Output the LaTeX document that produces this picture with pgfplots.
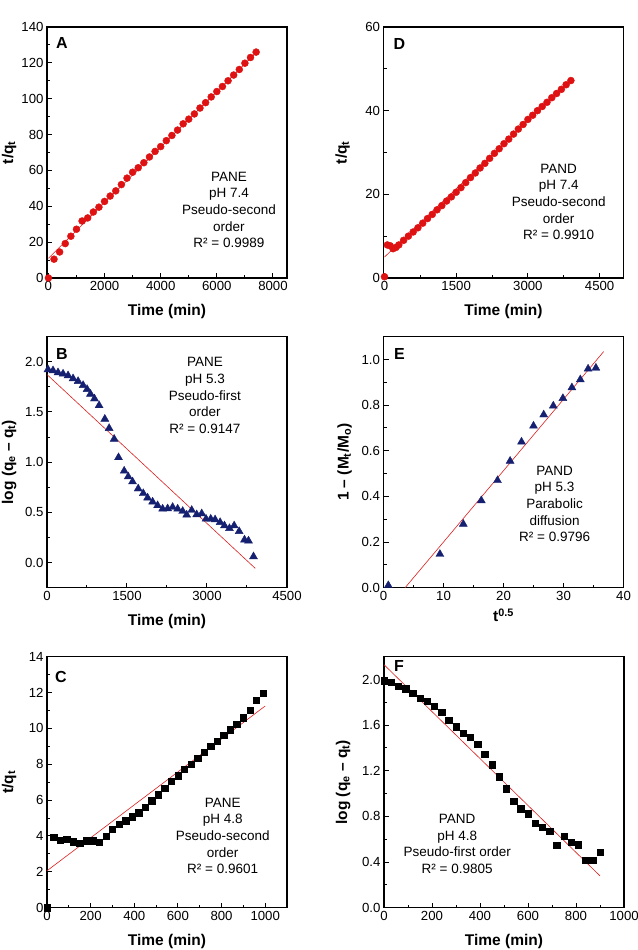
\documentclass[border=0pt]{standalone}
\usepackage{pgfplots}
\pgfplotsset{compat=1.18}
\usepackage{fontspec}
\setmainfont{Liberation Sans}
\definecolor{dotred}{RGB}{222,18,18}
\definecolor{navy}{RGB}{22,32,112}
\definecolor{fitred}{RGB}{222,30,30}
\tikzset{
  ann/.style={align=center, font=\fontsize{13.5}{16.7}\selectfont, inner sep=0pt},
  letter/.style={anchor=north west, inner sep=0pt, font=\bfseries\fontsize{16}{16}\selectfont},
  onedec/.style={/pgf/number format/.cd, fixed, fixed zerofill, precision=1},
}
\pgfplotsset{
  panel/.style={
    scale only axis, width=240pt, height=251pt,
    anchor=south west,
    clip=false,
    axis line style={line width=1.3pt},
    tick style={black, line width=1pt},
    major tick length=5pt, minor tick length=3pt,
    tick align=inside, tick pos=left,
    ticklabel style={font=\fontsize{13.2}{13.2}\selectfont},
    /pgf/number format/assume math mode=true,
    /pgf/number format/1000 sep={},
    scaled ticks=false,
    minor x tick num=1, minor y tick num=1,
    xlabel style={font=\bfseries\fontsize{15.5}{16}\selectfont, at={(axis description cs:0.5,0)}, anchor=north, inner sep=0pt, yshift=-26pt},
    ylabel style={font=\bfseries\fontsize{15.5}{16}\selectfont, anchor=center},
  },
  fit/.style={fitred, line width=0.6pt, no markers},
  circ/.style={only marks, mark=*, mark size=3.5pt, mark options={draw=dotred, fill=dotred}},
  tri/.style={only marks, mark=triangle*, mark size=4.6pt, mark options={draw=navy, fill=navy}},
  sq/.style={only marks, mark=square*, mark size=3.2pt, mark options={draw=black, fill=black}},
}
\begin{document}
\begin{tikzpicture}
\useasboundingbox (0,0) rectangle (637pt,950pt);

% ---------------- A ----------------
\begin{axis}[panel, at={(47pt,672pt)},
  xmin=-50, xmax=8500, ymin=0, ymax=140,
  xtick={0,2000,4000,6000,8000}, ytick={0,20,40,60,80,100,120,140},
  xlabel={Time (min)}, ylabel={t/q\textsubscript{t}},
  ylabel style={at={(axis description cs:-0.158,0.5)}}]
\addplot[fit] coordinates {(0,11) (7400,125.6)};
\addplot[circ] coordinates {
(0,0) (200,10.5) (400,14.5) (600,19.2) (800,23.3) (1000,27.2) (1200,31.8) (1400,33.5)
(1600,36.8) (1800,39.5) (2000,42.7) (2200,45.7) (2400,48.6) (2600,52.1) (2800,55.7)
(3000,59.0) (3200,61.5) (3400,64.3) (3600,67.5) (3800,70.6) (4000,73.3) (4200,76.6)
(4400,79.5) (4600,82.5) (4800,86.0) (5000,88.6) (5200,91.5) (5400,94.8) (5600,97.8)
(5800,101.0) (6000,104.0) (6200,106.8) (6400,110.0) (6600,113.2) (6800,116.3)
(7000,119.8) (7200,123.0) (7400,126.0)};
\node[letter, xshift=9pt, yshift=-10.5pt] at (axis description cs:0,1) {A};
\node[ann] at (axis description cs:0.758,0.271) {PANE\\pH 7.4\\Pseudo-second\\order\\R² = 0.9989};
\end{axis}

% ---------------- D ----------------
\begin{axis}[panel, at={(383.5pt,672pt)},
  xmin=-20, xmax=5000, ymin=0, ymax=60,
  xtick={0,1500,3000,4500}, ytick={0,20,40,60},
  xlabel={Time (min)}, ylabel={t/q\textsubscript{t}},
  ylabel style={at={(axis description cs:-0.17,0.5)}}]
\addplot[fit] coordinates {(0,5.0) (3900,47.4)};
\addplot[circ] coordinates {
(0,0.3) (60,7.9) (120,7.7) (180,7.0) (240,7.3) (300,7.9) (400,9.0) (500,10.0)
(600,11.0) (700,12.0) (800,13.1) (900,14.2) (1000,15.2) (1100,16.3) (1200,17.3)
(1300,18.4) (1400,19.4) (1500,20.5) (1600,21.6) (1700,22.8) (1800,24.0) (1900,25.1)
(2000,26.3) (2100,27.4) (2200,28.6) (2300,29.8) (2400,30.9) (2500,32.1) (2600,33.2)
(2700,34.4) (2800,35.6) (2900,36.7) (3000,37.9) (3100,38.9) (3200,40.0) (3300,41.0)
(3400,42.0) (3500,43.1) (3600,44.1) (3700,45.1) (3800,46.2) (3900,47.2)};
\node[letter, xshift=10pt, yshift=-11.5pt] at (axis description cs:0,1) {D};
\node[ann] at (axis description cs:0.73,0.303) {PAND\\pH 7.4\\Pseudo-second\\order\\R² = 0.9910};
\end{axis}

% ---------------- B ----------------
\begin{axis}[panel, at={(47pt,362.3pt)},
  xmin=0, xmax=4500, ymin=-0.25, ymax=2.25,
  xtick={0,1500,3000,4500}, ytick={0,0.5,1,1.5,2},
  yticklabel style={onedec},
  xlabel={Time (min)}, ylabel={log (q\textsubscript{e} – q\textsubscript{t})},
  ylabel style={at={(axis description cs:-0.158,0.5)}}]
\addplot[fit] coordinates {(0,1.873) (3904,-0.057)};
\addplot[tri] coordinates {
(19,1.923) (113,1.913) (207,1.893) (301,1.88) (395,1.863) (489,1.833) (583,1.806)
(677,1.766) (752,1.726) (815,1.679) (890,1.632) (977,1.565) (1084,1.43) (1165,1.338)
(1259,1.231) (1341,1.047) (1447,0.913) (1523,0.856) (1604,0.806) (1710,0.736)
(1805,0.689) (1886,0.645) (1980,0.605) (2074,0.569) (2168,0.535) (2262,0.538)
(2356,0.552) (2450,0.535) (2544,0.512) (2619,0.475) (2713,0.522) (2807,0.478)
(2901,0.488) (2982,0.435) (3070,0.435) (3152,0.428) (3246,0.401) (3327,0.368)
(3421,0.341) (3509,0.368) (3603,0.311) (3703,0.227) (3778,0.217) (3872,0.06)};
\node[letter, xshift=9pt, yshift=-12pt] at (axis description cs:0,1) {B};
\node[ann] at (axis description cs:0.658,0.766) {PANE\\pH 5.3\\Pseudo-first\\order\\R² = 0.9147};
\end{axis}

% ---------------- E ----------------
\begin{axis}[panel, at={(383.5pt,362.3pt)},
  xmin=0, xmax=40, ymin=0, ymax=1.1,
  xtick={0,10,20,30,40}, ytick={0,0.2,0.4,0.6,0.8,1.0},
  yticklabel style={onedec},
  xlabel={t\textsuperscript{0.5}}, xlabel style={yshift=5pt},
  ylabel={1 – (M\textsubscript{t}/M\textsubscript{o})},
  ylabel style={at={(axis description cs:-0.162,0.5)}}]
\addplot[fit] coordinates {(3.6,0) (36.7,1.035)};
\addplot[tri] coordinates {
(0.8,0.01) (9.4,0.147) (13.3,0.279) (16.3,0.382) (19.0,0.47) (21.1,0.555)
(23.0,0.639) (25.0,0.709) (26.7,0.758) (28.3,0.797) (29.9,0.83) (31.4,0.877)
(32.8,0.912) (34.1,0.959) (35.4,0.963)};
\node[letter, xshift=10.5pt, yshift=-11.7pt] at (axis description cs:0,1) {E};
\node[ann] at (axis description cs:0.713,0.334) {PAND\\pH 5.3\\Parabolic\\diffusion\\R² = 0.9796};
\end{axis}

% ---------------- C ----------------
\begin{axis}[panel, at={(47pt,42.3pt)},
  xmin=0, xmax=1100, ymin=0, ymax=14,
  xtick={0,200,400,600,800,1000}, ytick={0,2,4,6,8,10,12,14},
  xlabel={Time (min)}, ylabel={t/q\textsubscript{t}},
  ylabel style={at={(axis description cs:-0.158,0.5)}}]
\addplot[fit] coordinates {(0,2.06) (1000,11.25)};
\addplot[sq] coordinates {
(0,0) (30,3.92) (60,3.77) (90,3.81) (120,3.68) (150,3.59) (180,3.74) (210,3.74)
(240,3.66) (270,3.98) (300,4.37) (330,4.65) (360,4.85) (390,5.07) (420,5.30)
(450,5.61) (480,5.97) (510,6.30) (540,6.67) (570,7.04) (600,7.36) (630,7.71)
(660,8.01) (690,8.33) (720,8.66) (750,9.00) (780,9.29) (810,9.63) (840,9.93)
(870,10.24) (900,10.60) (930,11.00) (960,11.56) (990,11.95)};
\node[letter, xshift=8pt, yshift=-14pt] at (axis description cs:0,1) {C};
\node[ann] at (axis description cs:0.732,0.286) {PANE\\pH 4.8\\Pseudo-second\\order\\R² = 0.9601};
\end{axis}

% ---------------- F ----------------
\begin{axis}[panel, at={(384pt,42.3pt)},
  xmin=0, xmax=1000, ymin=0, ymax=2.2,
  xtick={0,200,400,600,800,1000}, ytick={0,0.4,0.8,1.2,1.6,2.0},
  yticklabel style={onedec},
  xlabel={Time (min)}, ylabel={log (q\textsubscript{e} – q\textsubscript{t})},
  ylabel style={at={(axis description cs:-0.17,0.5)}}]
\addplot[fit] coordinates {(0,2.13) (900,0.279)};
\addplot[sq] coordinates {
(0,1.99) (30,1.977) (60,1.94) (90,1.918) (120,1.88) (150,1.838) (180,1.809)
(210,1.765) (240,1.712) (270,1.645) (300,1.586) (330,1.53) (360,1.492) (390,1.433)
(420,1.345) (450,1.254) (480,1.148) (510,1.043) (540,0.934) (570,0.869) (600,0.825)
(630,0.743) (660,0.708) (690,0.67) (720,0.546) (750,0.626) (780,0.576) (810,0.552)
(840,0.414) (870,0.414) (900,0.488)};
\node[letter, xshift=10pt, yshift=-3.4pt] at (axis description cs:0,1) {F};
\node[ann] at (axis description cs:0.305,0.254) {PAND\\pH 4.8\\Pseudo-first order\\R² = 0.9805};
\end{axis}
\end{tikzpicture}
\end{document}
